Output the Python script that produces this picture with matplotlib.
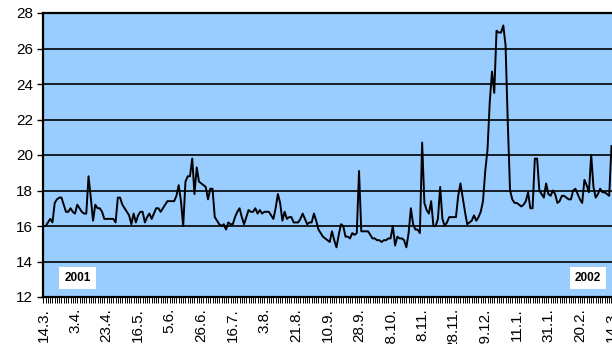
import matplotlib.pyplot as plt
from matplotlib.ticker import MultipleLocator

# daily values, 14.3.2001 - 14.3.2002 (one chunk per tick label interval)
values = [
    16.0, 16.0, 16.2, 16.4, 16.2, 17.3, 17.5, 17.6, 17.6, 17.2, 16.8, 16.8, 17.0, 16.8,
    16.7, 17.2, 17.0, 16.8, 16.7, 16.7, 18.8, 17.6, 16.3, 17.2, 17.0, 17.0, 16.8, 16.4,
    16.4, 16.4, 16.4, 16.4, 16.2, 17.6, 17.6, 17.2, 17.0, 16.8, 16.6, 16.1, 16.7, 16.2,
    16.6, 16.8, 16.8, 16.2, 16.5, 16.7, 16.4, 16.7, 17.0, 17.0, 16.8, 17.0, 17.2, 17.4,
    17.4, 17.4, 17.4, 17.7, 18.3, 17.4, 16.0, 18.5, 18.8, 18.8, 19.8, 17.8, 19.3, 18.5,
    18.4, 18.3, 18.2, 17.5, 18.1, 18.1, 16.5, 16.3, 16.1, 16.0, 16.1, 15.8, 16.2, 16.1,
    16.1, 16.5, 16.8, 17.0, 16.5, 16.1, 16.5, 16.9, 16.8, 16.8, 17.0, 16.7, 16.9, 16.7,
    16.8, 16.8, 16.8, 16.6, 16.4, 17.0, 17.8, 17.3, 16.3, 16.8, 16.4, 16.5, 16.5, 16.2,
    16.2, 16.2, 16.4, 16.7, 16.4, 16.1, 16.2, 16.2, 16.7, 16.3, 15.8, 15.6, 15.4, 15.3,
    15.2, 15.1, 15.7, 15.2, 14.8, 15.5, 16.1, 16.0, 15.4, 15.4, 15.3, 15.6, 15.5, 15.6,
    19.1, 15.7, 15.7, 15.7, 15.7, 15.5, 15.3, 15.3, 15.2, 15.2, 15.1, 15.2, 15.2, 15.3,
    15.3, 16.0, 14.9, 15.4, 15.3, 15.3, 15.2, 14.8, 15.6, 17.0, 16.1, 15.8, 15.8, 15.6,
    20.7, 17.3, 16.9, 16.7, 17.4, 16.0, 16.0, 16.4, 18.2, 16.4, 16.0, 16.2, 16.5, 16.5,
    16.5, 16.5, 17.7, 18.4, 17.6, 16.8, 16.1, 16.2, 16.3, 16.6, 16.3, 16.5, 16.8, 17.4,
    19.1, 20.3, 23.0, 24.7, 23.5, 27.0, 26.9, 26.9, 27.3, 26.2, 21.8, 18.0, 17.5, 17.3,
    17.3, 17.2, 17.1, 17.2, 17.4, 17.9, 17.0, 17.0, 19.8, 19.8, 18.0, 17.8, 17.6, 18.4,
    17.8, 17.7, 18.0, 17.8, 17.3, 17.4, 17.7, 17.7, 17.6, 17.5, 17.5, 18.0, 18.1, 17.8,
    17.5, 17.3, 18.6, 18.3, 17.9, 20.0, 18.2, 17.6, 17.8, 18.1, 17.9, 17.9, 17.8, 17.7,
    20.5,
]
tick_labels = ['14.3.', '3.4.', '23.4.', '16.5.', '5.6.', '26.6.', '16.7.', '3.8.',
               '21.8.', '10.9.', '28.9.', '18.10.', '8.11.', '28.11.', '19.12.',
               '11.1.', '31.1.', '20.2.', '14.3.']
label_step = 14

plt.rcParams['font.family'] = ['Liberation Sans', 'DejaVu Sans']

fig = plt.figure(figsize=(6.12, 3.44), dpi=100)
# plot area runs past the right edge, as in the original
ax = fig.add_axes([43 / 612, 47 / 344, 577.5 / 612, 284 / 344])
ax.set_facecolor('#99ccff')

x = list(range(len(values)))
ax.plot(x, values, color='black', lw=1.4, zorder=3)

ax.set_ylim(12, 28)
ax.set_xlim(-0.2, 256)
ax.yaxis.set_major_locator(MultipleLocator(2))
ax.grid(axis='y', color='black', lw=1.2)
ax.set_axisbelow(True)

ax.set_xticks([i * label_step for i in range(len(tick_labels))])
ax.set_xticklabels(tick_labels, rotation=90)
ax.set_xticks(x, minor=True)
ax.tick_params(axis='x', which='both', length=4, width=0.7, direction='out',
               labelsize=11, pad=4)
ax.tick_params(axis='y', length=4, width=1, labelsize=11, pad=3)

for side in ['left', 'bottom', 'top']:
    ax.spines[side].set_linewidth(1.6)
ax.spines['right'].set_visible(False)

box = dict(boxstyle='square,pad=0.45', fc='white', ec='none')
ax.text(15.3, 13.07, '2001', ha='center', va='center', fontsize=8.5,
        fontweight='bold', bbox=box)
ax.text(241.6, 13.07, '2002', ha='center', va='center', fontsize=8.5,
        fontweight='bold', bbox=box)

fig.savefig('out.png', dpi=100)
